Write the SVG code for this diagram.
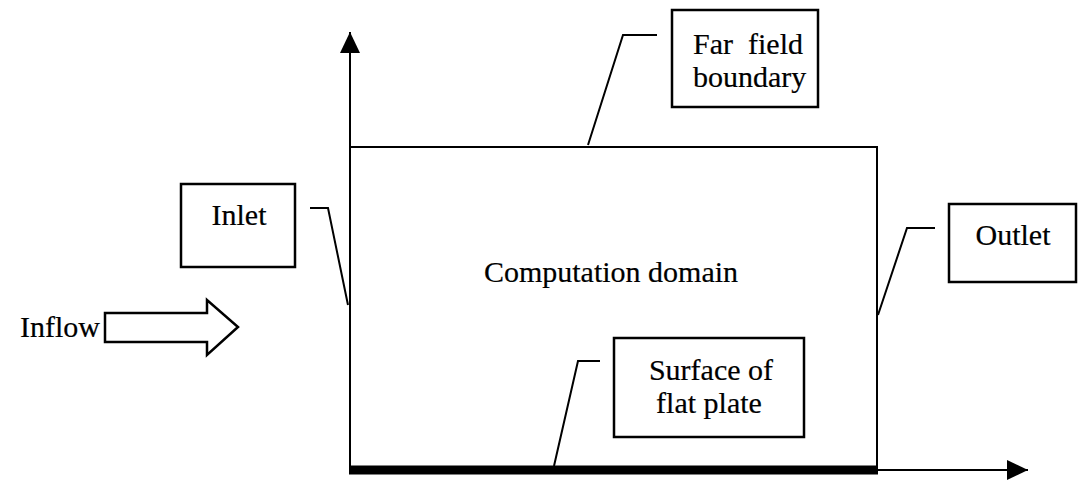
<svg xmlns="http://www.w3.org/2000/svg" width="1078" height="480" viewBox="0 0 1078 480">
<style>
.box{fill:#fff;stroke:#000;stroke-width:2.5}
.ln{fill:none;stroke:#000;stroke-width:2}
.t{font-family:"Liberation Serif","Times New Roman",Times,serif;font-size:30px;fill:#000;stroke:#000;stroke-width:0.2}
</style>
<defs>
<marker id="ahb" markerWidth="21" markerHeight="20" refX="21" refY="10" orient="auto" markerUnits="userSpaceOnUse" viewBox="0 0 21 20">
<path d="M0,0 L21,10 L0,20 z" fill="#000"/>
</marker>
</defs>
<g id="connectors">
<line class="ln" x1="350" y1="470" x2="350" y2="32" marker-end="url(#ahb)"/>
<line class="ln" x1="350" y1="470" x2="1028" y2="470" marker-end="url(#ahb)"/>
<polyline class="ln" points="657,35 623,35 588,145"/>
<polyline class="ln" points="310,208 328,208 348,305"/>
<polyline class="ln" points="935,228 907,228 878,315"/>
<polyline class="ln" points="600,361 578,361 554,466"/>
</g>
<g id="domain">
<rect x="350" y="147" width="527" height="323" fill="none" stroke="#000" stroke-width="2"/>
<line x1="349" y1="470" x2="878" y2="470" stroke="#000" stroke-width="9"/>
<text class="t" x="611" y="282" text-anchor="middle">Computation domain</text>
</g>
<g id="farfield">
<rect class="box" x="672" y="10" width="146" height="97"/>
<text class="t" x="693" y="54" xml:space="preserve">Far  field</text>
<text class="t" x="693" y="87">boundary</text>
</g>
<g id="inlet">
<rect class="box" x="181" y="184" width="114" height="83"/>
<text class="t" x="239" y="225" text-anchor="middle">Inlet</text>
</g>
<g id="outlet">
<rect class="box" x="949" y="204" width="127" height="78"/>
<text class="t" x="1013" y="245" text-anchor="middle">Outlet</text>
</g>
<g id="surface">
<rect class="box" x="614" y="338" width="190" height="99"/>
<text class="t" x="711" y="380" text-anchor="middle">Surface of</text>
<text class="t" x="709" y="413" text-anchor="middle">flat plate</text>
</g>
<g id="inflow">
<text class="t" x="20" y="337">Inflow</text>
<path d="M105,313 L207,313 L207,300 L238,327 L207,355 L207,342 L105,342 z" fill="#fff" stroke="#000" stroke-width="2.5"/>
</g>
</svg>
